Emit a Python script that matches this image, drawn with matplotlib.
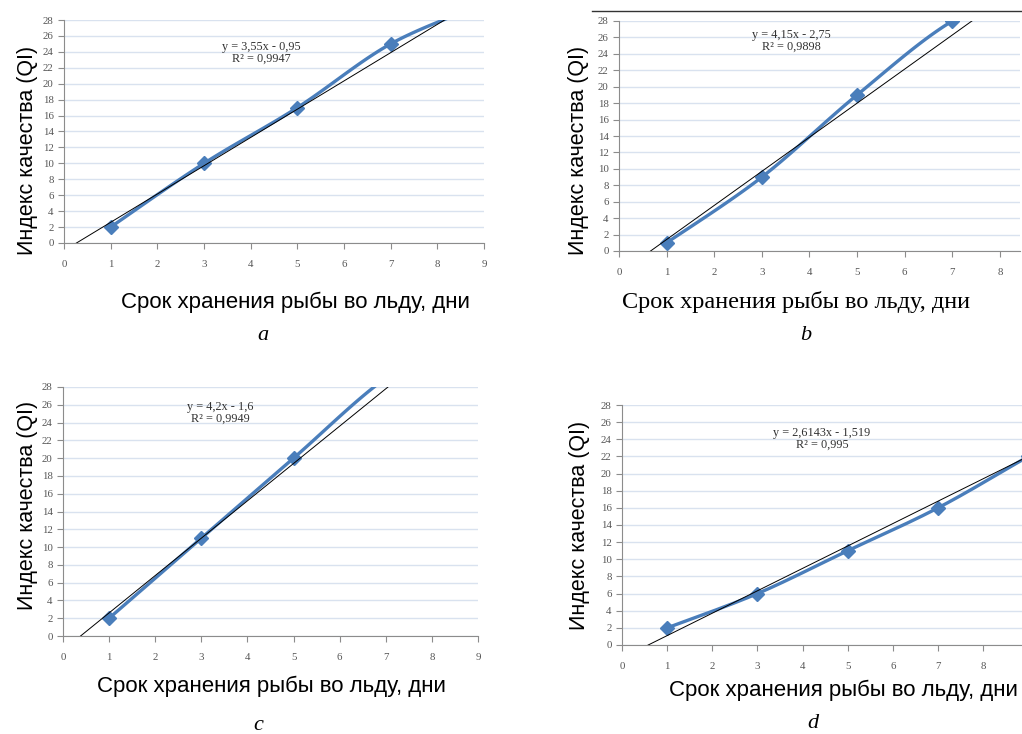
import numpy as np
import matplotlib
matplotlib.use("Agg")
from matplotlib import pyplot as plt
from matplotlib.lines import Line2D

# data (points beyond the axis are clipped in the original)
days_a = [1, 3, 5, 7, 9]
qi_a = [2, 10, 17, 25, 30]
days_b = [1, 3, 5, 7, 9]
qi_b = [1, 9, 19, 28, 33]
days_c = [1, 3, 5, 7, 9]
qi_c = [2, 11, 20, 29, 35]
days_d = [1, 3, 5, 7, 9, 11]
qi_d = [2, 6, 11, 16, 22, 28]

trend_a = (3.55, -0.95)
trend_b = (4.15, -2.75)
trend_c = (4.2, -1.6)
trend_d = (2.6143, -1.519)

eq_a = ["y = 3,55x - 0,95", "R² = 0,9947"]
eq_b = ["y = 4,15x - 2,75", "R² = 0,9898"]
eq_c = ["y = 4,2x - 1,6", "R² = 0,9949"]
eq_d = ["y = 2,6143x - 1,519", "R² = 0,995"]

xlabel = "Срок хранения рыбы во льду, дни"
ylabel = "Индекс качества (QI)"
letters = ["a", "b", "c", "d"]

BLUE = "#4A7EBB"
GRID = "#D9E2EF"
AXC = "#8C8C8C"


def smooth(x, y, n=30):
    # excel-like smoothed line: cubic bezier through the points
    p = np.column_stack([x, y]).astype(float)
    out = []
    for i in range(len(p) - 1):
        p0 = p[i - 1] if i > 0 else p[i]
        p1, p2 = p[i], p[i + 1]
        p3 = p[i + 2] if i + 2 < len(p) else p[i + 1]
        c1 = p1 + (p2 - p0) / 6
        c2 = p2 - (p3 - p1) / 6
        t = np.linspace(0, 1, n)[:, None]
        seg = (1 - t)**3 * p1 + 3 * (1 - t)**2 * t * c1 + 3 * (1 - t) * t**2 * c2 + t**3 * p2
        out.append(seg)
    out = np.vstack(out)
    return out[:, 0], out[:, 1]


def panel(rect, xs, ys, trend, eq, xmax, xticks, eq_pos):
    ax = fig.add_axes(rect)
    ax.set_xlim(0, xmax)
    ax.set_ylim(0, 28)
    ax.set_yticks(range(0, 29, 2))
    ax.set_xticks(xticks)
    for s in ["top", "right"]:
        ax.spines[s].set_visible(False)
    for s in ["left", "bottom"]:
        ax.spines[s].set_color(AXC)
        ax.spines[s].set_linewidth(0.8)
    ax.yaxis.grid(True, color=GRID, linewidth=1.0)
    ax.set_axisbelow(True)
    ax.tick_params(length=4, width=0.8, color=AXC, labelsize=7.8, labelcolor="#555555")
    for lab in ax.get_xticklabels() + ax.get_yticklabels():
        lab.set_family("Liberation Serif")
    ax.tick_params(axis="x", pad=8)

    sx, sy = smooth(xs, ys)
    ax.plot(sx, sy, color=BLUE, lw=2.4, zorder=3)
    ax.plot(xs, ys, "D", color=BLUE, ms=7, zorder=4)
    m, c = trend
    tx = np.array([0, xmax])
    ax.plot(tx, m * tx + c, color="black", lw=0.7, zorder=5)

    ax.text(eq_pos[0], eq_pos[1], eq[0] + "\n" + eq[1], transform=ax.transAxes,
            ha="center", va="top", fontsize=8.8, family="Liberation Serif",
            color="#333333", linespacing=1.0)
    return ax


fig = plt.figure(figsize=(10.22, 7.34), dpi=100)

W, H = 1022, 734

panel([64 / W, 1 - 243 / H, 420 / W, 223 / H], days_a, qi_a, trend_a, eq_a, 9, range(0, 10), (0.47, 0.905))
panel([619 / W, 1 - 251 / H, 401 / W, 230 / H], days_b, qi_b, trend_b, eq_b, 8.42, range(0, 9), (0.43, 0.965))
panel([63 / W, 1 - 636 / H, 415 / W, 249 / H], days_c, qi_c, trend_c, eq_c, 9, range(0, 10), (0.38, 0.945))
panel([622 / W, 1 - 645 / H, 400 / W, 240 / H], days_d, qi_d, trend_d, eq_d, 8.86, range(0, 9), (0.50, 0.91))

# y labels
for x, y in [(28, 150), (578, 150), (28, 505), (580, 525)]:
    fig.text(x / W, 1 - y / H, ylabel, rotation=90, ha="center", va="center",
             fontsize=15.5, family="Liberation Sans")

# x labels
fig.text(295 / W, 1 - 302 / H, xlabel, ha="center", va="center", fontsize=16,
         family="Liberation Sans")
fig.text(796 / W, 1 - 302 / H, xlabel, ha="center", va="center", fontsize=17.5,
         family="Liberation Serif")
fig.text(271 / W, 1 - 686 / H, xlabel, ha="center", va="center", fontsize=16,
         family="Liberation Sans")
fig.text(843 / W, 1 - 690 / H, xlabel, ha="center", va="center", fontsize=16,
         family="Liberation Sans")

# panel letters
for (x, y), s in zip([(263, 335), (806, 335), (258, 725), (813, 723)], letters):
    fig.text(x / W, 1 - y / H, s, ha="center", va="center", fontsize=16,
             family="Liberation Serif", style="italic")

# stray frame line above panel b
fig.add_artist(Line2D([592 / W, 1.0], [1 - 11 / H, 1 - 11 / H], color="#333333", lw=1.0))

fig.savefig("out.png", dpi=100)
